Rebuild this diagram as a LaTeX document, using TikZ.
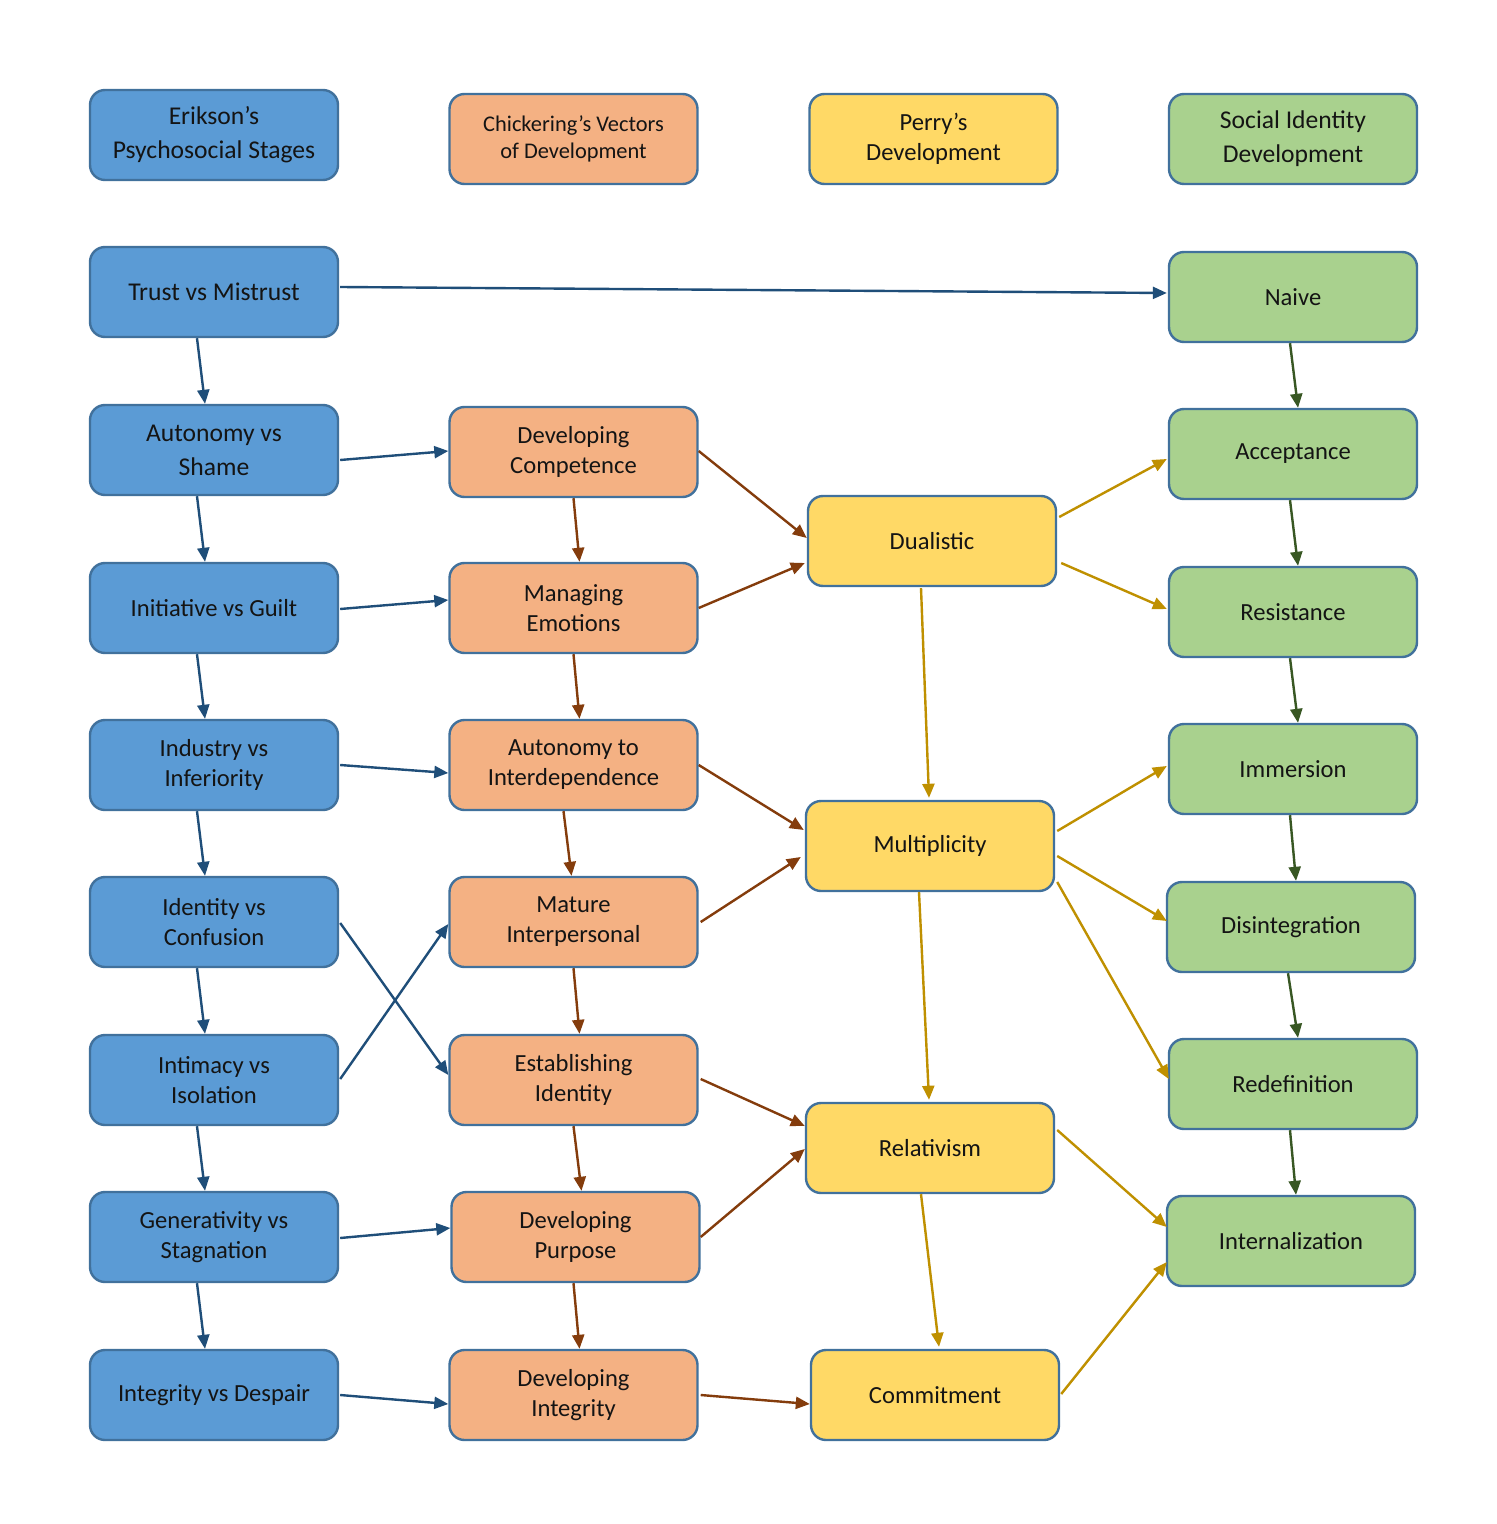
\documentclass[tikz,border=0pt]{standalone}
\usepackage{fontspec}
\setmainfont{Carlito}
\usetikzlibrary{arrows.meta,calc}
\definecolor{bfill}{HTML}{5B9BD5}
\definecolor{ofill}{HTML}{F4B183}
\definecolor{yfill}{HTML}{FFD966}
\definecolor{gfill}{HTML}{A9D18E}
\definecolor{bord}{HTML}{41719C}
\definecolor{barrc}{HTML}{1F4E79}
\definecolor{oarrc}{HTML}{843C0C}
\definecolor{yarrc}{HTML}{BF9000}
\definecolor{garrc}{HTML}{385723}
\definecolor{txt}{HTML}{141414}
\tikzset{
  box/.style={draw=bord, line width=1.2pt, rounded corners=7.5pt, minimum width=124pt,
    minimum height=45pt, align=center, inner sep=0pt, text=txt,
    font=\fontsize{12.3}{15}\selectfont},
  bigtxt/.style={font=\fontsize{12.8}{17}\selectfont},
  smalltxt/.style={font=\fontsize{11.2}{13.5}\selectfont},
  ebox/.style={box, fill=bfill},
  cbox/.style={box, fill=ofill},
  pbox/.style={box, fill=yfill},
  sbox/.style={box, fill=gfill},
  arr/.style={line width=1.2pt, -{Triangle[length=7pt,width=6pt]}},
  barr/.style={arr, draw=barrc, fill=barrc},
  oarr/.style={arr, draw=oarrc, fill=oarrc},
  yarr/.style={arr, draw=yarrc, fill=yarrc},
  garr/.style={arr, draw=garrc, fill=garrc},
}
\begin{document}
\begin{tikzpicture}[x=0.5pt,y=-0.5pt]
\useasboundingbox[fill=white] (0,0) rectangle (1496,1524);
% headers
\node[ebox,bigtxt] (h1) at (214,135) {Erikson’s\\Psychosocial Stages};
\node[cbox,smalltxt] (h2) at (573.5,139) {Chickering’s Vectors\\of Development};
\node[pbox] (h3) at (933.5,139) {Perry’s\\Development};
\node[sbox,bigtxt] (h4) at (1293,139) {Social Identity\\Development};
% Erikson
\node[ebox,bigtxt] (e1) at (214,292) {Trust vs Mistrust};
\node[ebox,bigtxt] (e2) at (214,450) {Autonomy vs\\Shame};
\node[ebox] (e3) at (214,608) {Initiative vs Guilt};
\node[ebox] (e4) at (214,765) {Industry vs\\Inferiority};
\node[ebox] (e5) at (214,922) {Identity vs\\Confusion};
\node[ebox] (e6) at (214,1080) {Intimacy vs\\Isolation};
\node[ebox] (e7) at (214,1237) {Generativity vs\\Stagnation};
\node[ebox] (e8) at (214,1395) {Integrity vs Despair};
% Chickering
\node[cbox] (c1) at (573.5,452) {Developing\\Competence};
\node[cbox] (c2) at (573.5,608) {Managing\\Emotions};
\node[cbox] (c3) at (573.5,765) {Autonomy to\\Interdependence};
\node[cbox] (c4) at (573.5,922) {Mature\\Interpersonal};
\node[cbox] (c5) at (573.5,1080) {Establishing\\Identity};
\node[cbox] (c6) at (575.5,1237) {Developing\\Purpose};
\node[cbox] (c7) at (573.5,1395) {Developing\\Integrity};
% Perry
\node[pbox] (p1) at (932,541) {Dualistic};
\node[pbox] (p2) at (930,846) {Multiplicity};
\node[pbox] (p3) at (930,1148) {Relativism};
\node[pbox] (p4) at (935,1395) {Commitment};
% Social identity
\node[sbox] (s1) at (1293,297) {Naive};
\node[sbox] (s2) at (1293,454) {Acceptance};
\node[sbox] (s3) at (1293,612) {Resistance};
\node[sbox] (s4) at (1293,769) {Immersion};
\node[sbox] (s5) at (1291,927) {Disintegration};
\node[sbox] (s6) at (1293,1084) {Redefinition};
\node[sbox] (s7) at (1291,1241) {Internalization};
% blue arrows
\draw[barr] ($(e1.east)+(1,-5)$) -- ($(s1.west)+(-1,-4)$);
\foreach \a/\b in {e1/e2,e2/e3,e3/e4,e4/e5,e5/e6,e6/e7,e7/e8}
  \draw[barr] ($(\a.south)+(-17,0)$) -- ($(\b.north)+(-9,0)$);
\draw[barr] ($(e2.east)+(1,10)$) -- ($(c1.west)+(0,-1)$);
\draw[barr] ($(e3.east)+(1,1)$) -- ($(c2.west)+(0,-8)$);
\draw[barr] ($(e4.east)+(1,0)$) -- ($(c3.west)+(0,8)$);
\draw[barr] ($(e5.east)+(1,1)$) -- ($(c5.west)+(0,-5)$);
\draw[barr] ($(e6.east)+(1,-1)$) -- ($(c4.west)+(0,2)$);
\draw[barr] ($(e7.east)+(1,1)$) -- ($(c6.west)+(0,-9)$);
\draw[barr] ($(e8.east)+(1,0)$) -- ($(c7.west)+(0,9)$);
% orange arrows
\foreach \a/\b in {c1/c2,c2/c3,c4/c5,c5/c6}
  \draw[oarr] ($(\a.south)+(0,0)$) -- ($(\b.north)+(6,0)$);
\draw[oarr] ($(c6.south)+(-2,0)$) -- ($(c7.north)+(6,0)$);
\draw[oarr] ($(c3.south)+(-10,0)$) -- ($(c4.north)+(-2,0)$);
\draw[oarr] ($(c1.east)+(0,-1)$) -- ($(p1.west)+(0,-3)$);
\draw[oarr] ($(c2.east)+(0,0)$) -- ($(p1.west)+(-2,22)$);
\draw[oarr] ($(c3.east)+(0,0)$) -- ($(p2.west)+(-1,-16)$);
\draw[oarr] ($(c4.east)+(2,0)$) -- ($(p2.west)+(-4,11)$);
\draw[oarr] ($(c5.east)+(2,-1)$) -- ($(p3.west)+(0,-22)$);
\draw[oarr] ($(c6.east)+(0,0)$) -- ($(p3.west)+(0,1)$);
\draw[oarr] ($(c7.east)+(2,0)$) -- ($(p4.west)+(0,9)$);
% yellow arrows
\draw[yarr] ($(p1.east)+(2,-24)$) -- ($(s2.west)+(-1,5)$);
\draw[yarr] ($(p1.east)+(4,22)$) -- ($(s3.west)+(-1,-3)$);
\draw[yarr] ($(p1.south)+(-11,1)$) -- ($(p2.north)+(-1,-2)$);
\draw[yarr] ($(p2.east)+(2,-15)$) -- ($(s4.west)+(-1,-3)$);
\draw[yarr] ($(p2.east)+(2,10)$) -- ($(s5.west)+(1,-6)$);
\draw[yarr] ($(p2.east)+(2,36)$) -- ($(s6.west)+(1,-5)$);
\draw[yarr] ($(p2.south)+(-11,0)$) -- ($(p3.north)+(-1,-2)$);
\draw[yarr] ($(p3.east)+(2,-18)$) -- ($(s7.west)+(1,-14)$);
\draw[yarr] ($(p3.south)+(-9,0)$) -- ($(p4.north)+(4,-2)$);
\draw[yarr] ($(p4.east)+(1,-1)$) -- ($(s7.west)+(1,21)$);
% green arrows
\foreach \a/\b in {s1/s2,s2/s3,s3/s4,s4/s5,s5/s6,s6/s7}
  \draw[garr] ($(\a.south)+(-3,0)$) -- ($(\b.north)+(5,0)$);
\end{tikzpicture}
\end{document}
